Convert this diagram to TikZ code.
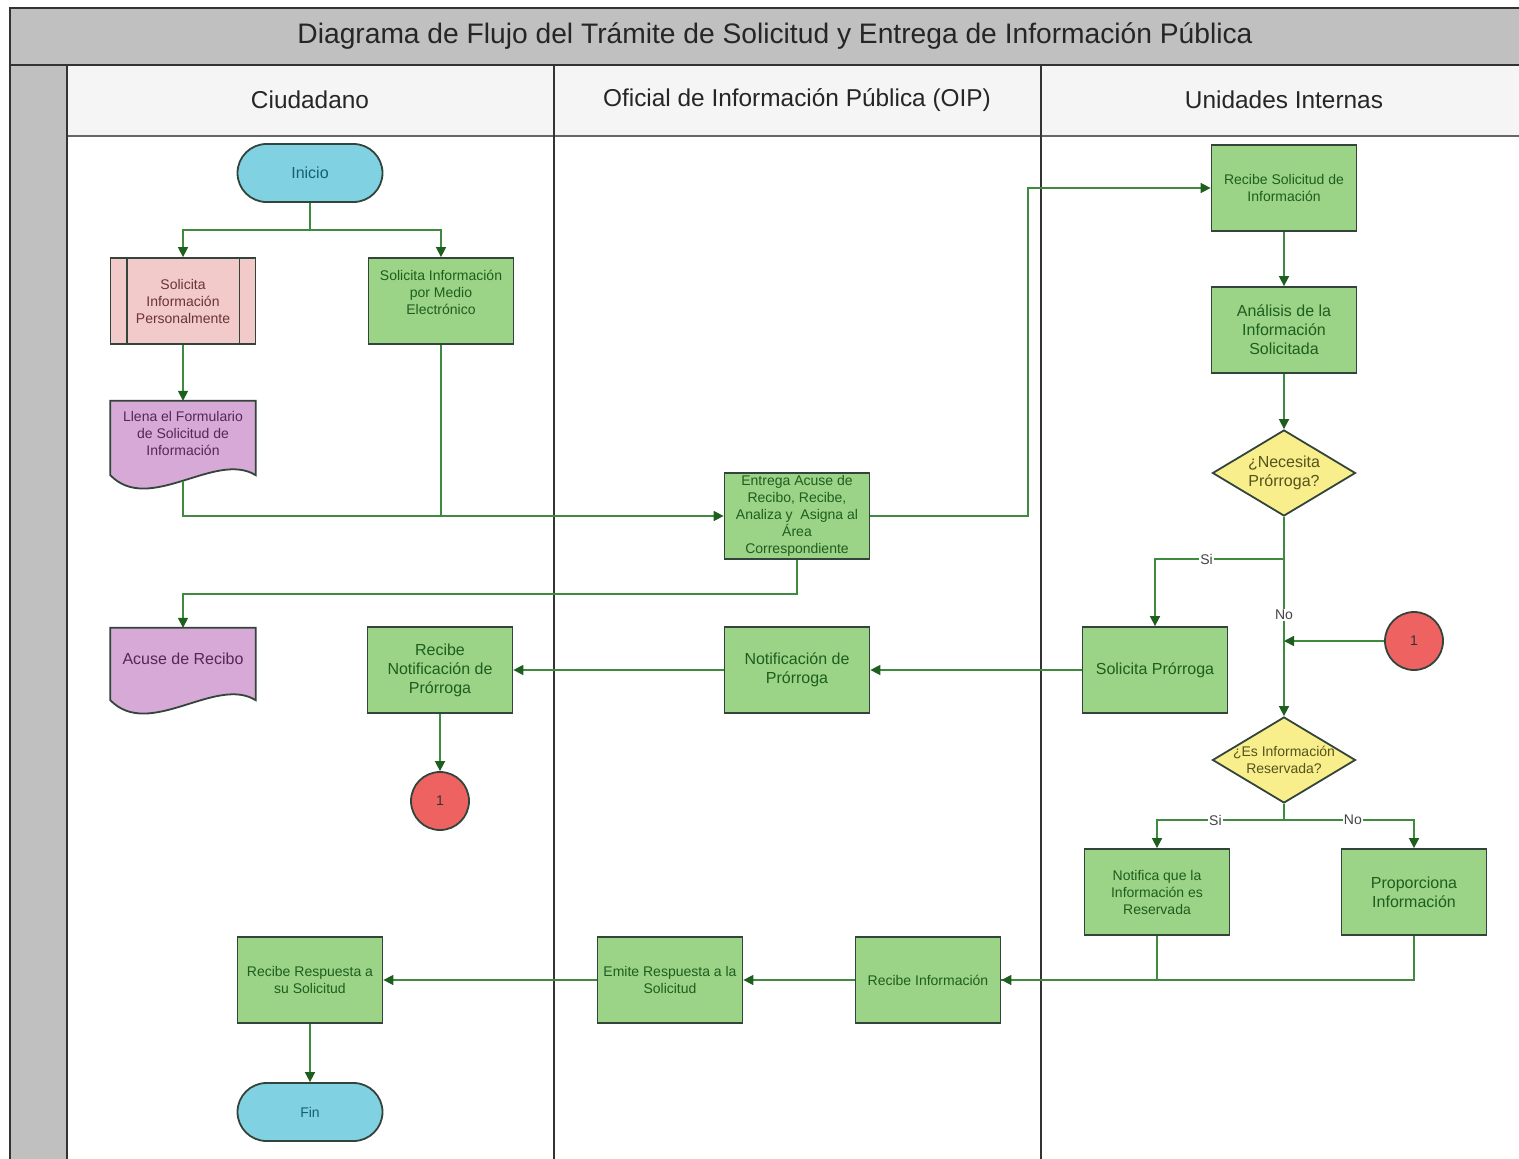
\documentclass[tikz,border=0pt]{standalone}
\usepackage{fontspec}
\setmainfont{Liberation Sans}
\usetikzlibrary{arrows.meta,shapes.geometric,calc}
\definecolor{gbox}{HTML}{9BD387}
\definecolor{gtxt}{HTML}{1E5E1E}
\definecolor{bord}{HTML}{33443A}
\definecolor{termf}{HTML}{80D2E2}
\definecolor{termt}{HTML}{15606E}
\definecolor{pinkf}{HTML}{F2CACA}
\definecolor{pinkt}{HTML}{6A3434}
\definecolor{purf}{HTML}{D6A9D6}
\definecolor{purt}{HTML}{542854}
\definecolor{yelf}{HTML}{F8EE8C}
\definecolor{yelt}{HTML}{55531E}
\definecolor{redf}{HTML}{EE6262}
\definecolor{lin}{HTML}{3E8A3E}
\definecolor{tipc}{HTML}{1E5E1E}
\definecolor{lblt}{HTML}{444444}
\definecolor{titlef}{HTML}{C0C0C0}
\definecolor{headf}{HTML}{F5F5F5}
\definecolor{lane}{HTML}{333333}
\pgfdeclarelayer{back}
\pgfdeclarelayer{bg}
\pgfsetlayers{back,bg,main}
\begin{document}
\begin{tikzpicture}[x=1pt,y=-1pt,
  sm/.style={font=\fontsize{14}{17}\selectfont},
  big/.style={font=\fontsize{16}{19}\selectfont},
  box/.style={draw=bord, line width=1.8pt, fill=gbox, text=gtxt, align=center,
    minimum width=145pt, minimum height=86pt, inner sep=2pt, sm},
  term/.style={draw=bord, line width=1.8pt, fill=termf, text=termt, rounded corners=29pt,
    minimum width=145pt, minimum height=58pt, inner sep=0pt},
  dia/.style={diamond, draw=bord, line width=1.8pt, fill=yelf, minimum width=143pt,
    minimum height=86pt, inner sep=0pt},
  dtext/.style={text=yelt, align=center, inner sep=0pt},
  conn/.style={circle, draw=bord, line width=1.8pt, fill=redf, minimum size=58pt,
    inner sep=0pt, font=\fontsize{14}{16}\selectfont, text=black!80},
  docnode/.style={align=center, minimum width=145pt, inner sep=0pt, text=purt},
  docshape/.style={draw=bord, line width=1.8pt, fill=purf},
  line/.style={draw=lin, line width=1.6pt},
  arr/.style={line, -{Triangle[length=10pt,width=10pt,fill=tipc,color=tipc]}},
  lbl/.style={fill=white, inner sep=1pt, text=lblt, font=\fontsize{14}{16}\selectfont},
  lanebar/.style={draw=lane, line width=1.8pt},
  headtxt/.style={font=\fontsize{24.4}{28}\selectfont, text=black!85}
]
\useasboundingbox (0,0) rectangle (1519,1159);

% ---------- swimlanes ----------
\begin{pgfonlayer}{back}
  \fill[white] (0,0) rectangle (1519,1159);
  \fill[titlef] (10,8) rectangle (1530,65);
  \fill[titlef] (10,65) rectangle (67,1170);
  \fill[headf] (67,65) rectangle (1530,136);
  \draw[lanebar] (10,1170) -- (10,8) -- (1530,8);
  \draw[draw=lane, line width=2.6pt] (10,65) -- (1530,65);
  \draw[draw=gray!80!black, line width=2pt] (67,136) -- (1530,136);
  \draw[lanebar] (67,65) -- (67,1170);
  \draw[lanebar] (554,65) -- (554,1170);
  \draw[lanebar] (1041,65) -- (1041,1170);
\end{pgfonlayer}

\node[font=\fontsize{28.2}{32}\selectfont, text=black!85] (title) at (775,36)
  {Diagrama de Flujo del Trámite de Solicitud y Entrega de Información Pública};
\node[headtxt] (h1) at (310,100) {Ciudadano};
\node[headtxt] (h2) at (797,100) {Oficial de Información Pública (OIP)};
\node[headtxt] (h3) at (1284,100) {Unidades Internas};

% ---------- nodes ----------
\node[term, big] (inicio) at (310,173) {Inicio};
\node[box, fill=pinkf, text=pinkt] (perso) at (183,301) {Solicita\\Información\\Personalmente};
\node[box] (elec) at (441,301) {Solicita Información\\por Medio\\Electrónico\\[1pt]};
\node[docnode, sm, minimum height=64pt] (llena) at (183,433) {Llena el Formulario\\de Solicitud de\\Información};
\node[box, inner sep=0pt] (entrega) at (797,516) {Entrega Acuse de\\Recibo, Recibe,\\Analiza y \ Asigna al\\Área\\Correspondiente};
\node[box] (recsol) at (1284,188) {Recibe Solicitud de\\Información};
\node[box, big] (analisis) at (1284,330) {Análisis de la\\Información\\Solicitada};
\node[dia] (nec) at (1284,473) {};
\node[dtext, big] (nect) at (nec.center) {¿Necesita\\Prórroga?};
\node[docnode, big, minimum height=62pt] (acuse) at (183,659) {Acuse de Recibo};
\node[box, big] (recnot) at (440,670) {Recibe\\Notificación de\\Prórroga};
\node[box, big] (notpro) at (797,670) {Notificación de\\Prórroga};
\node[box, big] (solpro) at (1155,670) {Solicita Prórroga};
\node[conn] (c1r) at (1414,641) {1};
\node[conn] (c1l) at (440,801) {1};
\node[dia] (res) at (1284,760) {};
\node[dtext, sm] (rest) at (res.center) {¿Es Información\\Reservada?};
\node[box] (notif) at (1157,892) {Notifica que la\\Información es\\Reservada};
\node[box, big] (propo) at (1414,892) {Proporciona\\Información};
\node[box] (recinf) at (928,980) {Recibe Información};
\node[box] (emite) at (670,980) {Emite Respuesta a la\\Solicitud};
\node[box] (recres) at (310,980) {Recibe Respuesta a\\su Solicitud};
\node[term, sm] (fin) at (310,1112) {Fin};

% predefined-process bars
\draw[draw=bord, line width=1.8pt] ([xshift=17pt]perso.north west) -- ([xshift=17pt]perso.south west);
\draw[draw=bord, line width=1.8pt] ([xshift=-17pt]perso.north east) -- ([xshift=-17pt]perso.south east);

% document shapes
\begin{pgfonlayer}{bg}
  \draw[docshape] ($(llena.south west)+(0,10)$) -- (llena.north west) -- (llena.north east)
    -- ($(llena.south east)+(0,10)$)
    .. controls ($(llena.south east)+(-40,-15)$) and ($(llena.south west)+(39,50)$) ..
    ($(llena.south west)+(0,10)$) -- cycle;
  \draw[docshape] ($(acuse.south west)+(0,10)$) -- (acuse.north west) -- (acuse.north east)
    -- ($(acuse.south east)+(0,10)$)
    .. controls ($(acuse.south east)+(-40,-15)$) and ($(acuse.south west)+(39,50)$) ..
    ($(acuse.south west)+(0,10)$) -- cycle;
\end{pgfonlayer}

% ---------- connectors ----------
\coordinate (j0) at (310,230);
\draw[line] (inicio.south) -- (j0);
\draw[arr] (j0) -| (perso.north);
\draw[arr] (j0) -| (elec.north);
\draw[arr] (perso.south) -- (llena.north);
\draw[arr] ([yshift=-16pt]llena.south) |- (entrega.west);
\draw[line] (elec.south) -- (elec.south |- entrega.west);
\coordinate (j2) at (1028,300);
\draw[arr] (entrega.east) -| (j2) |- (recsol.west);
\draw[arr] (entrega.south) -- ++(0,34) -| (acuse.north);
\draw[arr] (recsol.south) -- (analisis.north);
\draw[arr] (analisis.south) -- (nec.north);
\coordinate (j3) at (1284,559);
\draw[line] (nec.south) -- (j3);
\draw[arr] (j3) -| node[lbl, pos=0.3] (si1) {Si} (solpro.north);
\draw[arr] (j3) -- node[lbl, pos=0.354] (no1) {No} (res.north);
\draw[arr] (c1r.west) -- (c1r.west -| res.north);
\draw[arr] (solpro.west) -- (notpro.east);
\draw[arr] (notpro.west) -- (recnot.east);
\draw[arr] (recnot.south) -- (c1l.north);
\coordinate (j4) at (1284,820);
\draw[line] (res.south) -- (j4);
\draw[arr] (j4) -| node[lbl, pos=0.27] (si2) {Si} (notif.north);
\draw[arr] (j4) -| node[lbl, pos=0.265] (no2) {No} (propo.north);
\draw[line] (propo.south) |- (recinf.east);
\draw[arr] (notif.south) |- (recinf.east);
\draw[arr] (recinf.west) -- (emite.east);
\draw[arr] (emite.west) -- (recres.east);
\draw[arr] (recres.south) -- (fin.north);
\end{tikzpicture}
\end{document}
